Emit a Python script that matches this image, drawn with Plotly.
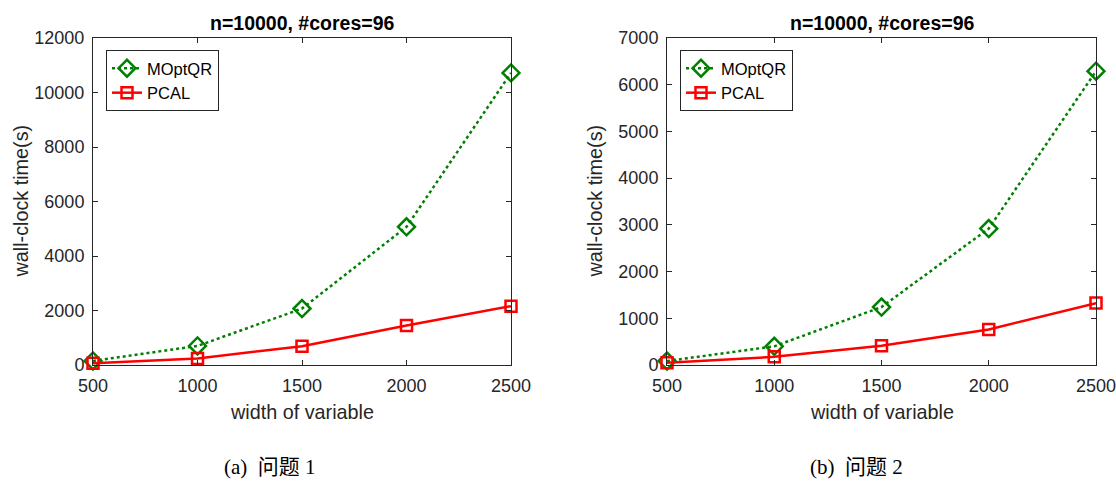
import plotly.graph_objects as go

# ---- data ----
widths = [500, 1000, 1500, 2000, 2500]
p1_moptqr = [150, 700, 2070, 5070, 10720]
p1_pcal = [60, 240, 690, 1450, 2160]
p2_moptqr = [85, 400, 1240, 2920, 6290]
p2_pcal = [50, 175, 410, 760, 1325]
title_text = "n=10000, #cores=96"
xlabel = "width of variable"
ylabel = "wall-clock time(s)"
captions = ["(a)  问题 1", "(b)  问题 2"]

W, H = 1116, 482
AX = "#262626"
GREEN = "#008000"
RED = "#FF0000"
SANS = "Liberation Sans, Arial, Helvetica, sans-serif"
SERIF = "Liberation Serif, Times New Roman, Noto Sans CJK SC, serif"

# pixel geometry of the two plot areas
panels = [
    dict(x0=93, x1=511, y0=38, y1=365, ymax=12000, dy=2000),
    dict(x0=667, x1=1096, y0=38, y1=365, ymax=7000, dy=1000),
]

fig = go.Figure()

series = [(p1_moptqr, p1_pcal), (p2_moptqr, p2_pcal)]
for i, (mo, pc) in enumerate(series):
    xa = "x" if i == 0 else "x2"
    ya = "y" if i == 0 else "y2"
    lg = "legend" if i == 0 else "legend2"
    fig.add_trace(go.Scatter(
        x=widths, y=mo, name="MOptQR", mode="lines+markers",
        line=dict(color=GREEN, width=2.5, dash="dot"),
        marker=dict(symbol="diamond-open", size=13, color=GREEN,
                    line=dict(color=GREEN, width=2.5)),
        xaxis=xa, yaxis=ya, legend=lg, cliponaxis=False))
    fig.add_trace(go.Scatter(
        x=widths, y=pc, name="PCAL", mode="lines+markers",
        line=dict(color=RED, width=2.5),
        marker=dict(symbol="square-open", size=11, color=RED,
                    line=dict(color=RED, width=2.5)),
        xaxis=xa, yaxis=ya, legend=lg, cliponaxis=False))

def axis_common():
    return dict(showline=True, linecolor=AX, linewidth=1, mirror="ticks",
                ticks="inside", ticklen=5, tickcolor=AX, tickwidth=1,
                showgrid=False, zeroline=False, automargin=False,
                tickformat="d", ticklabeloverflow="allow",
                tickfont=dict(family=SANS, size=18, color=AX))

layout = dict(width=W, height=H, margin=dict(l=0, r=0, t=0, b=0, autoexpand=False),
              paper_bgcolor="white", plot_bgcolor="white", annotations=[])

for i, p in enumerate(panels):
    sfx = "" if i == 0 else "2"
    xd = [p["x0"] / W, p["x1"] / W]
    yd = [1 - p["y1"] / H, 1 - p["y0"] / H]
    xax = axis_common()
    xax.update(domain=xd, range=[500, 2500], tickvals=widths,
               anchor="y" + sfx, ticklabelstandoff=4)
    yax = axis_common()
    yax.update(domain=yd, range=[0, p["ymax"]], dtick=p["dy"], tick0=0,
               anchor="x" + sfx, ticklabelstandoff=4)
    layout["xaxis" + sfx] = xax
    layout["yaxis" + sfx] = yax
    cx = (p["x0"] + p["x1"]) / 2 / W
    layout["annotations"] += [
        dict(text="<b>" + title_text + "</b>", x=cx, y=1 - 23 / H,
             xref="paper", yref="paper", showarrow=False,
             font=dict(family=SANS, size=19.5, color="black"),
             xanchor="center", yanchor="middle"),
        dict(text=xlabel, x=cx, y=1 - 412 / H, xref="paper", yref="paper",
             showarrow=False, font=dict(family=SANS, size=19.8, color=AX),
             xanchor="center", yanchor="middle"),
        dict(text=ylabel, x=(p["x0"] - 73) / W,
             y=1 - (p["y0"] + p["y1"]) / 2 / H, xref="paper", yref="paper",
             showarrow=False, textangle=-90,
             font=dict(family=SANS, size=19.8, color=AX),
             xanchor="center", yanchor="middle"),
        dict(text=captions[i], x=(270 if i == 0 else 857) / W, y=1 - 467 / H,
             xref="paper", yref="paper", showarrow=False,
             font=dict(family=SERIF, size=21, color="black"),
             xanchor="center", yanchor="middle"),
    ]
    leg = dict(x=(p["x0"] + 13) / W, y=1 - 50 / H, xanchor="left",
               yanchor="top", bgcolor="white", bordercolor=AX, borderwidth=1,
               font=dict(family=SANS, size=16.5, color="black"),
               itemwidth=30, tracegroupgap=0)
    layout["legend" + sfx] = leg

fig.update_layout(**layout)
fig.write_html("out.html")
